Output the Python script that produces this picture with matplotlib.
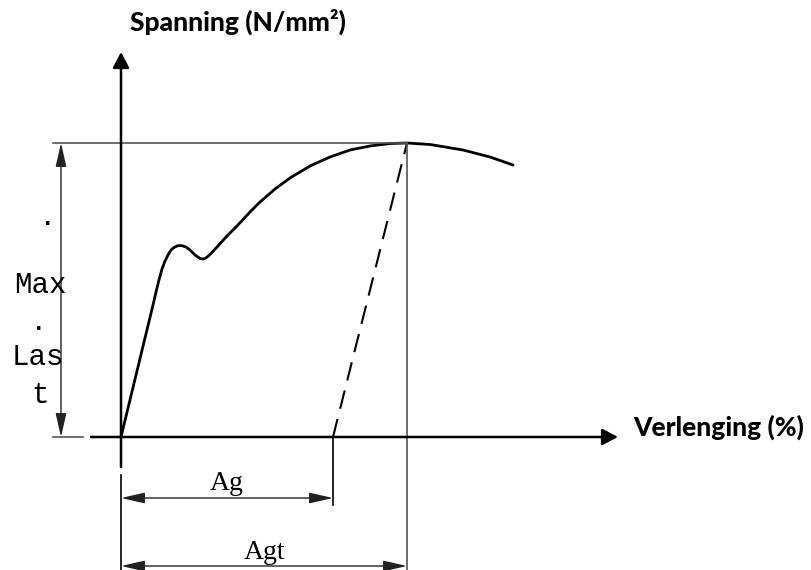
import numpy as np
import matplotlib
matplotlib.use("Agg")
import matplotlib.pyplot as plt

# schematic stress-strain curve (origin at axis crossing, arbitrary units)
strain = [0, 32, 35, 38, 41, 44, 47, 50, 53, 56, 59, 62, 65, 69, 74, 79, 82, 85,
          89, 96, 106, 116, 129, 139, 154, 169, 189, 209, 229, 249, 269, 286,
          309, 342, 369, 392]
stress = [0, 132, 145, 157, 168, 176, 182, 187, 189.5, 191, 191.5, 191, 190, 187,
          182, 178.5, 178, 179, 182.5, 190, 201, 211, 225, 235, 248, 259, 271,
          280, 287, 291, 293.5, 294, 292.5, 287, 280, 272]

ag = 212      # plastic elongation at max load
agt = 286     # total elongation at max load
max_load = 294

fig = plt.figure(figsize=(8.11, 5.70), dpi=100)
ax = fig.add_axes([0, 0, 1, 1])
ax.set_xlim(-121, 690)
ax.set_ylim(-133, 437)
ax.axis("off")

dim_col = "#555555"

# axes with arrows
ax.annotate("", xy=(0, 385), xytext=(0, -30),
            arrowprops=dict(arrowstyle="-|>,head_length=0.95,head_width=0.5",
                            mutation_scale=10, lw=1.8, color="black",
                            shrinkA=0, shrinkB=0))
ax.annotate("", xy=(497, 0), xytext=(-30, 0),
            arrowprops=dict(arrowstyle="-|>,head_length=0.95,head_width=0.5",
                            mutation_scale=10, lw=1.8, color="black",
                            shrinkA=0, shrinkB=0))

# curve
ax.plot(strain, stress, color="black", lw=2.0, solid_capstyle="round",
        solid_joinstyle="round")

# unloading line
ax.plot([ag, agt], [0, max_load], color="black", lw=1.5, ls=(0, (9, 5)))

# extension lines
ax.plot([-68, agt], [max_load, max_load], color=dim_col, lw=1.2)
ax.plot([-68, -38], [0, 0], color=dim_col, lw=1.2)
ax.plot([agt, agt], [max_load, -135], color=dim_col, lw=1.2)
ax.plot([ag, ag], [0, -68], color="black", lw=1.2)
ax.plot([0, 0], [-38, -135], color="black", lw=1.2)

# dimension arrows
dim = dict(arrowstyle="<|-|>,head_length=1.45,head_width=0.33",
           mutation_scale=10, lw=1.0, color="#222222", shrinkA=0, shrinkB=0)
ax.annotate("", xy=(-60, max_load), xytext=(-60, 0), arrowprops=dim)
ax.annotate("", xy=(0, -61), xytext=(ag, -61), arrowprops=dim)
ax.annotate("", xy=(0, -129), xytext=(agt, -129), arrowprops=dim)

# labels
ax.text(9, 406, "Spanning (N/mm²)", fontsize=19, fontweight="black",
        family="Lato", va="baseline", ha="left")
ax.text(512, 1, "Verlenging (%)", fontsize=19, fontweight="black",
        family="Lato", va="baseline", ha="left")
ax.text(106, -53, "Ag", fontsize=20, family="Liberation Serif",
        ha="center", va="baseline")
ax.text(143, -122, "Agt", fontsize=20, family="Liberation Serif",
        ha="center", va="baseline")

mono = dict(fontsize=21, family="Liberation Mono", ha="center", va="baseline")
ax.text(-73, 212, ".", **mono)
ax.text(-81, 144, "Max", **mono)
ax.text(-82, 107, ".", **mono)
ax.text(-83, 72, "Las", **mono)
ax.text(-81, 34, "t", **mono)

fig.savefig("out.png", dpi=100)
